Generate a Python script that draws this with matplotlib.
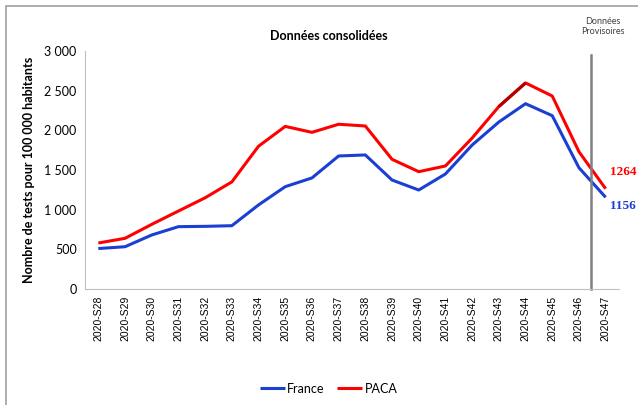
import matplotlib
matplotlib.use("Agg")
from matplotlib import pyplot as plt
from matplotlib.ticker import FuncFormatter
from matplotlib.patches import Rectangle

weeks = ["2020-S%d" % w for w in range(28, 48)]
france = [510, 533, 681, 786, 790, 798, 1060, 1290, 1400, 1677,
          1690, 1374, 1248, 1450, 1815, 2105, 2336, 2185, 1529, 1156]
paca = [580, 639, 815, 983, 1150, 1350, 1800, 2050, 1975, 2077,
        2055, 1635, 1479, 1551, 1903, 2300, 2598, 2433, 1731, 1264]

blue = "#1a3fd2"
red = "#ff0000"

fig = plt.figure(figsize=(6.38, 4.05), dpi=100)
ax = fig.add_axes([0.1332, 0.2864, 0.837, 0.5876])

x = range(len(weeks))
ax.plot(x, france, color=blue, lw=2.2, label="France", solid_capstyle="butt")
ax.plot(x, paca, color=red, lw=2.2, label="PACA", solid_capstyle="butt")
# segment plus sombre sur la courbe PACA
ax.plot([15, 16], paca[15:17], color="#b00000", lw=2.2, solid_capstyle="butt")

# séparation données consolidées / provisoires
ax.plot([18.45, 18.45], [0, 2950], color="#808080", lw=1.8, clip_on=False)

ax.set_xlim(-0.5, len(weeks) - 0.5)
ax.set_ylim(0, 3000)
ax.set_yticks(range(0, 3001, 500))
ax.yaxis.set_major_formatter(FuncFormatter(lambda v, p: "{:,.0f}".format(v).replace(",", " ")))
ax.set_xticks(list(x))
ax.set_xticklabels(weeks, rotation=90, fontsize=7.5, family="Liberation Sans")
ax.tick_params(axis="y", labelsize=9, length=0, pad=6)
ax.tick_params(axis="x", length=0, pad=5)
for lab in ax.get_yticklabels():
    lab.set_family("Lato")

for s in ["top", "right"]:
    ax.spines[s].set_visible(False)
for s in ["left", "bottom"]:
    ax.spines[s].set_color("#bfbfbf")
    ax.spines[s].set_linewidth(0.8)

ax.set_ylabel("Nombre de tests pour 100 000 habitants", fontsize=9,
              fontweight="bold", family="Lato", labelpad=7)
fig.text(0.516, 0.912, "Données consolidées", ha="center", va="center",
         fontsize=9, fontweight="bold", family="Lato")
fig.text(0.945, 0.935, "Données\nProvisoires", ha="center", va="center",
         fontsize=6.5, color="#404040", family="Lato", linespacing=1.1)

ax.annotate(str(paca[-1]), xy=(19, paca[-1]), xytext=(3, 12), textcoords="offset points",
            color=red, fontsize=9.5, fontweight="bold", family="Liberation Serif",
            va="center", ha="left", annotation_clip=False)
ax.annotate(str(france[-1]), xy=(19, france[-1]), xytext=(3, -6), textcoords="offset points",
            color=blue, fontsize=9.5, fontweight="bold", family="Liberation Serif",
            va="center", ha="left", annotation_clip=False)

fig.legend(loc="center", bbox_to_anchor=(0.515, 0.04), ncol=2, frameon=False,
           prop={"family": "Lato", "size": 9}, handlelength=2.0, handletextpad=0.2,
           columnspacing=1.0)

fig.patches.append(Rectangle((6 / 638, -0.1), 1.2, (405 - 6) / 405 + 0.1,
                             transform=fig.transFigure, fill=False,
                             edgecolor="#a0a0a0", lw=1.2))

fig.savefig("out.png", dpi=100)
